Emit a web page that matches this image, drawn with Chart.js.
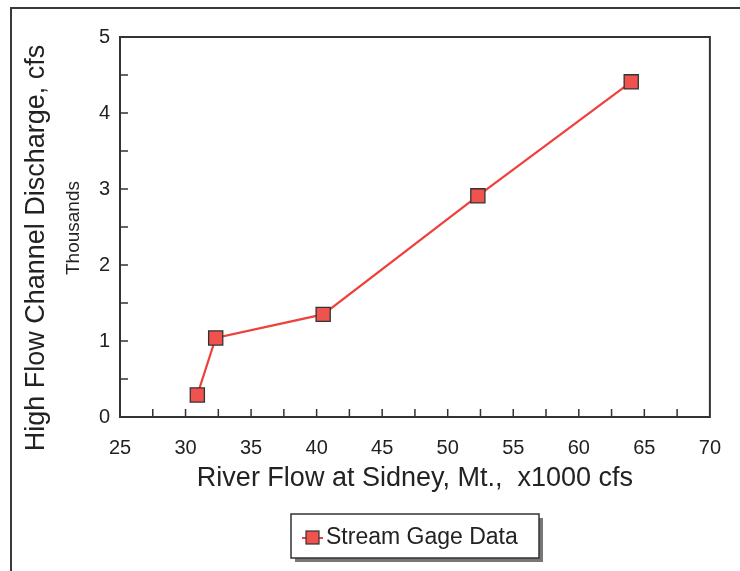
<!DOCTYPE html>
<html>
<head>
<meta charset="utf-8">
<script src="https://cdn.jsdelivr.net/npm/chart.js@4.4.0/dist/chart.umd.min.js"></script>
<style>
  html, body { margin: 0; padding: 0; background: #fff; }
  #wrap { position: relative; width: 740px; height: 571px; overflow: hidden; }
  #frame { position: absolute; left: 10px; top: 7px; width: 800px; height: 700px; border: 2px solid #3a3a3a; }
  #myChart { position: absolute; left: 0; top: 0; }
</style>
</head>
<body>
<div id="wrap">
  <div id="frame"></div>
  <canvas id="myChart" width="740" height="571"></canvas>
</div>
<script>
// dữ liệu
const riverFlow = [30.9, 32.3, 40.5, 52.3, 64.0];      // x1000 cfs
const discharge = [0.29, 1.04, 1.35, 2.91, 4.41];      // thousands cfs
const xTicks = [25, 30, 35, 40, 45, 50, 55, 60, 65, 70];
const yTicks = [0, 1, 2, 3, 4, 5];
const xMinor = [27.5, 30, 32.5, 35, 37.5, 40, 42.5, 45, 47.5, 50, 52.5, 55, 57.5, 60, 62.5, 65, 67.5];
const yMinor = [0.5, 1, 1.5, 2, 2.5, 3, 3.5, 4, 4.5];
const seriesLabel = 'Stream Gage Data';
const yTitle = 'High Flow Channel Discharge, cfs';
const ySubTitle = 'Thousands';

const FONT = '"Liberation Sans", Arial, sans-serif';
const LINE_RED = 'rgb(238, 64, 60)';
const MARK_RED = 'rgb(240, 82, 78)';
const DARK = '#333333';

// khung, vạch chia bên trong, tiêu đề trục Y và chú thích
const decorations = {
    id: 'decorations',
    afterDraw(chart) {
        const ctx = chart.ctx;
        const a = chart.chartArea;
        const xs = chart.scales.x, ys = chart.scales.y;
        ctx.save();
        ctx.strokeStyle = DARK;
        ctx.lineWidth = 2;
        ctx.strokeRect(a.left, a.top, a.right - a.left, a.bottom - a.top);

        ctx.lineWidth = 1.5;
        ctx.beginPath();
        xMinor.forEach(v => {
            const px = xs.getPixelForValue(v);
            ctx.moveTo(px, a.bottom);
            ctx.lineTo(px, a.bottom - 8);
        });
        yMinor.forEach(v => {
            const py = ys.getPixelForValue(v);
            ctx.moveTo(a.left, py);
            ctx.lineTo(a.left + 8, py);
        });
        ctx.stroke();
        ctx.restore();

        // tiêu đề trục Y
        ctx.save();
        ctx.fillStyle = '#222';
        ctx.textAlign = 'center';
        ctx.textBaseline = 'middle';
        ctx.translate(37, 248);
        ctx.rotate(-Math.PI / 2);
        ctx.font = '27px ' + FONT;
        ctx.fillText(yTitle, 0, 0);
        ctx.restore();

        ctx.save();
        ctx.fillStyle = '#222';
        ctx.textAlign = 'center';
        ctx.textBaseline = 'middle';
        ctx.translate(74, 228);
        ctx.rotate(-Math.PI / 2);
        ctx.font = '19px ' + FONT;
        ctx.fillText(ySubTitle, 0, 0);
        ctx.restore();

        // chú thích
        ctx.save();
        const bx = 291, by = 514, bw = 248, bh = 44;
        ctx.fillStyle = '#777';
        ctx.fillRect(bx + 4, by + 4, bw, bh);
        ctx.fillStyle = '#fff';
        ctx.fillRect(bx, by, bw, bh);
        ctx.strokeStyle = DARK;
        ctx.lineWidth = 1.5;
        ctx.strokeRect(bx, by, bw, bh);
        const my = by + bh / 2 + 2;
        ctx.strokeStyle = LINE_RED;
        ctx.lineWidth = 2;
        ctx.beginPath();
        ctx.moveTo(302, my);
        ctx.lineTo(323, my);
        ctx.stroke();
        ctx.fillStyle = MARK_RED;
        ctx.fillRect(306, my - 7, 13, 13);
        ctx.strokeStyle = DARK;
        ctx.lineWidth = 1.2;
        ctx.strokeRect(306, my - 7, 13, 13);
        ctx.fillStyle = '#222';
        ctx.font = '23px ' + FONT;
        ctx.textAlign = 'left';
        ctx.textBaseline = 'middle';
        ctx.fillText(chart.data.datasets[0].label, 326, my);
        ctx.restore();
    }
};

const config = {
    type: 'scatter',
    data: {
        datasets: [{
            label: seriesLabel,
            data: riverFlow.map((x, i) => ({ x: x, y: discharge[i] })),
            showLine: true,
            borderColor: LINE_RED,
            borderWidth: 2.2,
            pointStyle: 'rect',
            pointRadius: 10,
            pointBackgroundColor: MARK_RED,
            pointBorderColor: DARK,
            pointBorderWidth: 1.3,
            tension: 0
        }]
    },
    options: {
        responsive: false,
        animation: false,
        events: [],
        layout: { padding: { top: 37, right: 29, left: 0, bottom: 74 } },
        plugins: {
            legend: { display: false },
            tooltip: { enabled: false }
        },
        scales: {
            x: {
                type: 'linear',
                min: 25, max: 70,
                afterBuildTicks: s => { s.ticks = xTicks.map(v => ({ value: v })); },
                afterFit: s => { s.height = 80; },
                grid: { display: false, drawTicks: false },
                border: { display: false },
                ticks: { color: '#222', font: { family: FONT, size: 20 }, padding: 19 },
                title: {
                    display: true,
                    text: 'River Flow at Sidney, Mt.,  x1000 cfs',
                    color: '#222',
                    font: { family: FONT, size: 27 },
                    padding: { top: 0, bottom: 2 }
                }
            },
            y: {
                type: 'linear',
                min: 0, max: 5,
                afterBuildTicks: s => { s.ticks = yTicks.map(v => ({ value: v })); },
                afterFit: s => { s.width = 120; },
                grid: { display: false, drawTicks: false },
                border: { display: false },
                ticks: { color: '#222', font: { family: FONT, size: 20 }, padding: 10 }
            }
        }
    },
    plugins: [decorations]
};

const ctx = document.getElementById('myChart').getContext('2d');
window.myChart = new Chart(ctx, config);
</script>
</body>
</html>
